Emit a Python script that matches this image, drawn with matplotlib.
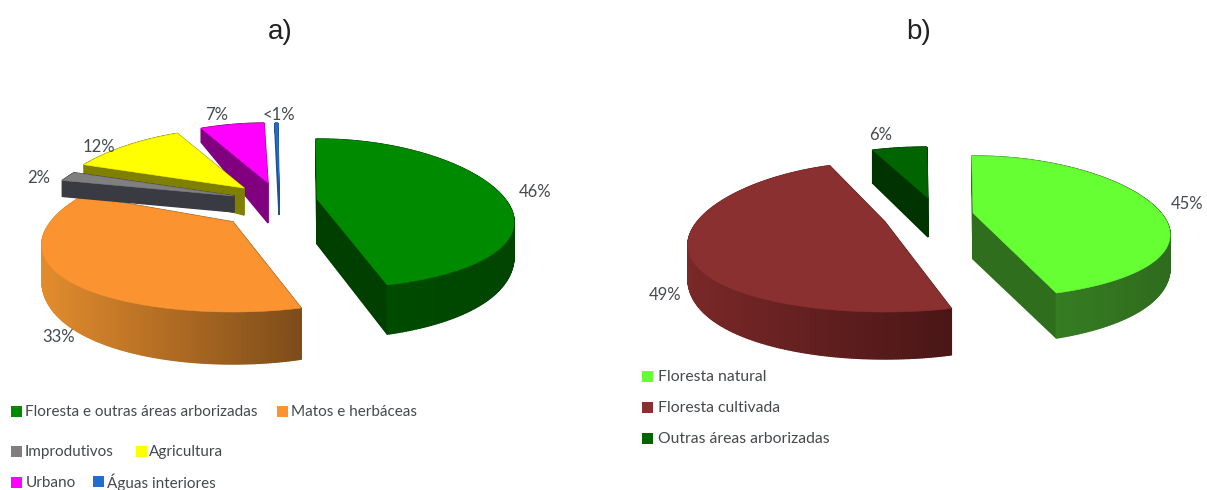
import numpy as np
import matplotlib
matplotlib.use("Agg")
import matplotlib.pyplot as plt
from matplotlib.colors import to_rgb
from matplotlib.patches import Polygon, Rectangle

# ---------- data ----------
names_a = ["Floresta e outras áreas arborizadas", "Matos e herbáceas", "Improdutivos",
           "Agricultura", "Urbano", "Águas interiores"]
values_a = [46, 33, 2, 12, 7, 0.3]
labels_a = ["46%", "33%", "2%", "12%", "7%", "<1%"]

names_b = ["Floresta natural", "Floresta cultivada", "Outras áreas arborizadas"]
values_b = [45, 49, 6]
labels_b = ["45%", "49%", "6%"]

# ---------- style / layout (pixel space of the figure) ----------
W, H = 1207, 490
RX, RY, KX, KY, START = 188, 72, 0.3, 0.2, -0.5
TXT = "#45494c"
FONT = ["Lato", "DejaVu Sans"]

style_a = [
    dict(apex=(317, 199), top="#008a00", cut="#003f00", rim=("#004f00", "#004400"), d=(45, 27, 50, 27)),
    dict(apex=(233, 222), top="#fa9330", cut="#7f4d1a", rim=("#e38c2d", "#7d4c1a"), d=(50, 28, 52, 28),
         sx=0.97, ext=(0, 10)),
    dict(apex=(234, 196), top="#7f7f7f", cut="#3a3a42", rim=("#3a3a42", "#3a3a42"), d=(16, 16, 16, 16)),
    dict(apex=(244, 188), top="#ffff00", cut="#808000", rim=("#808000", "#808000"), d=(27, 10, 10, 7)),
    dict(apex=(268, 183), top="#ff00ff", cut="#800080", rim=("#800080", "#800080"), d=(40, 15, 15, 14)),
    dict(apex=(279, 183), top="#1f6fd0", cut="#24508f", rim=("#24508f", "#24508f"), d=(32, 10, 10, 10)),
]
order_a = [0, 5, 4, 3, 1, 2]

style_b = [
    dict(apex=(973, 213), top="#66ff33", cut="#2f6e1d", rim=("#3a8a24", "#2f6b1e"), d=(46, 27, 46, 27), sy=0.95),
    dict(apex=(885, 222), top="#8b3030", cut="#4a1616", rim=("#7a2828", "#4a1616"), d=(47, 28, 47, 28),
         ext=(4, 0)),
    dict(apex=(928, 198), top="#006400", cut="#003300", rim=("#003300", "#003300"), d=(39, 33, 33, 33), sy=0.85),
]
order_b = [2, 1, 0]

legend_a = [(11, 411, 25), (277, 411, 291), (11, 451, 25), (136, 451, 149), (11, 482, 26), (93, 481, 107)]
legend_b = [(642, 376, 658), (642, 407, 658), (642, 438, 658)]
label_pos_a = [(535, 192), (59, 337), (39, 178), (99, 147), (217, 115), (279, 115)]
label_pos_b = [(1187, 204), (665, 295), (881, 135)]

fig = plt.figure(figsize=(W / 100, H / 100), dpi=100, facecolor="white")
ax = fig.add_axes([0, 0, 1, 1])
ax.set_xlim(0, W)
ax.set_ylim(H, 0)
ax.axis("off")


def project(s, theta):
    u, v = np.sin(theta), np.cos(theta)
    return (s["apex"][0] + s.get("sx", 1) * RX * u / (1 + KX * v),
            s["apex"][1] - s.get("sy", 1) * RY * v / (1 + KY * v))


def rim_depth(d, theta):
    _, side, front, back = d
    v = np.cos(theta)
    return np.where(v >= 0, side + (back - side) * v, side + (front - side) * (-v))


def draw_wedge(a0, a1, s, z):
    ap = s["apex"]
    e0, e1 = s.get("ext", (0, 0))
    a0, a1 = a0 + e0, a1 + e1
    th = np.radians(np.linspace(a0, a1, max(int(a1 - a0) * 2, 6)))
    xs, ys = project(s, th)
    dep = rim_depth(s["d"], th)
    faces = []
    for i in (0, -1):
        pts = [(ap[0], ap[1]), (xs[i], ys[i]), (xs[i], ys[i] + dep[i]), (ap[0], ap[1] + s["d"][0])]
        faces.append(((ap[1] + ys[i]) / 2, pts, s["cut"]))
    c0, c1 = np.array(to_rgb(s["rim"][0])), np.array(to_rgb(s["rim"][1]))
    span = max(xs.max() - xs.min(), 1)
    for k in range(len(th) - 1):
        t = ((xs[k] + xs[k + 1]) / 2 - xs.min()) / span
        pts = [(xs[k], ys[k]), (xs[k + 1], ys[k + 1]),
               (xs[k + 1], ys[k + 1] + dep[k + 1]), (xs[k], ys[k] + dep[k])]
        faces.append(((ys[k] + ys[k + 1]) / 2, pts, tuple(c0 + (c1 - c0) * t)))
    faces.sort(key=lambda f: f[0])
    for _, pts, col in faces:
        ax.add_patch(Polygon(pts, closed=True, fc=col, ec=col, lw=1.0, zorder=z))
    top = [(ap[0], ap[1])] + list(zip(xs, ys))
    ax.add_patch(Polygon(top, closed=True, fc=s["top"], ec=s["top"], lw=0.4, zorder=z + 0.5))


def draw_pie(values, styles, order):
    total = sum(values)
    edges = START + 360 * np.concatenate([[0], np.cumsum(values)]) / total
    for z, i in enumerate(order):
        draw_wedge(edges[i], edges[i + 1], styles[i], z + 1)


draw_pie(values_a, style_a, order_a)
draw_pie(values_b, style_b, order_b)

for txt, (x, y) in zip(labels_a + labels_b, label_pos_a + label_pos_b):
    ax.text(x, y, txt, ha="center", va="center", fontsize=12, color=TXT, family=FONT, zorder=20)

for names, styles, pos, size in ((names_a, style_a, legend_a, 11), (names_b, style_b, legend_b, 11.3)):
    for name, s, (sx, sy, tx) in zip(names, styles, pos):
        ax.add_patch(Rectangle((sx, sy - 5.5), 11, 11, fc=s["top"], ec="none", zorder=20))
        ax.text(tx, sy + 1, name, ha="left", va="center", fontsize=size, color=TXT, family=FONT, zorder=20)

ax.text(280, 32, "a)", ha="center", va="center", fontsize=20, color="#222222", family="Liberation Sans")
ax.text(919, 32, "b)", ha="center", va="center", fontsize=20, color="#222222", family="Liberation Sans")

fig.savefig("out.png", dpi=100, facecolor="white")
